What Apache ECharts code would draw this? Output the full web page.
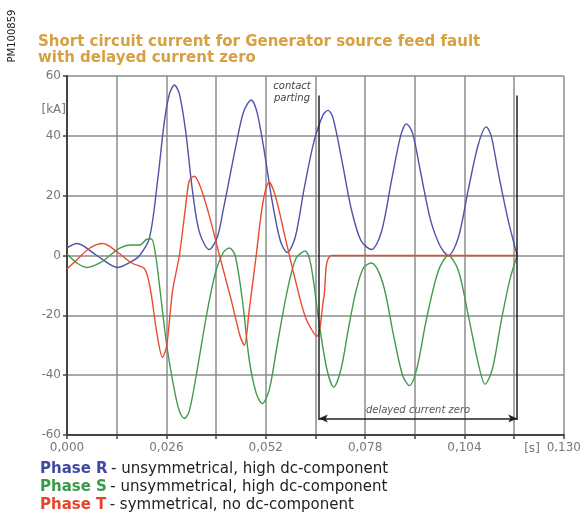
<!DOCTYPE html>
<html><head><meta charset="utf-8">
<script src="https://cdn.jsdelivr.net/npm/echarts/dist/echarts.min.js"></script>
<style>html,body{margin:0;padding:0;background:#fff}#c{width:584px;height:514px}</style>
</head><body><div id="c"></div>
<script>
// time [s], current [kA]
const phaseR = [[0,2.5],[0.0026,4],[0.0078,0],[0.0133,-4],[0.0169,-2],[0.019,0],[0.0216,6],[0.0237,25],[0.0255,45],[0.0268,54],[0.0281,57],[0.0294,54],[0.031,42],[0.0328,22],[0.0346,8],[0.0372,2],[0.0393,6],[0.041,16],[0.0427,27],[0.0444,38],[0.0462,48],[0.0482,52],[0.0497,48],[0.0516,35],[0.0537,18],[0.0558,5],[0.0576,1],[0.0597,6],[0.062,22],[0.0646,38],[0.067,47],[0.0683,48.5],[0.0696,46],[0.0719,32],[0.0743,16],[0.0769,5],[0.0797,2],[0.0823,8],[0.0849,25],[0.0873,40],[0.0888,44],[0.0904,41],[0.0925,28],[0.0951,12],[0.0977,3],[0.0998,0],[0.1024,6],[0.105,22],[0.1076,37],[0.1097,43],[0.111,40],[0.1128,28],[0.1154,12],[0.1178,0]];
const phaseS = [[0,0.5],[0.0026,-2.5],[0.0052,-4],[0.0086,-2.5],[0.0112,0],[0.0138,2.5],[0.0167,3.5],[0.019,3.5],[0.0211,5.5],[0.0221,5.5],[0.0232,0],[0.0242,-10],[0.0261,-30],[0.0281,-45],[0.0294,-52],[0.0307,-54.5],[0.032,-52],[0.0341,-38],[0.0365,-20],[0.0388,-6],[0.0409,1],[0.0425,2.5],[0.044,0],[0.0459,-15],[0.0477,-35],[0.0495,-46],[0.0511,-49.5],[0.0529,-45],[0.055,-30],[0.0576,-12],[0.0599,-1],[0.0623,1.5],[0.0638,-3],[0.0659,-22],[0.068,-38],[0.0698,-44],[0.0717,-38],[0.0737,-24],[0.0756,-12],[0.0776,-4],[0.0797,-2.5],[0.0826,-9],[0.0855,-27],[0.0878,-40],[0.0896,-43.5],[0.0915,-38],[0.0941,-21],[0.0972,-5],[0.0998,0],[0.1024,-5],[0.105,-20],[0.1076,-36],[0.1094,-43],[0.1113,-38],[0.1136,-22],[0.1159,-8],[0.1178,0]];
const phaseT = [[0,-4.5],[0.0021,-2],[0.006,2.5],[0.0094,4],[0.0133,1],[0.0169,-2.5],[0.0203,-4.5],[0.0219,-12],[0.0234,-25],[0.025,-34],[0.0261,-30],[0.0276,-12],[0.0294,0],[0.031,16],[0.032,25],[0.0333,26.5],[0.0349,23],[0.0373,13],[0.0399,0],[0.0428,-14],[0.0453,-27],[0.0464,-30],[0.0477,-18],[0.0495,0],[0.0513,18],[0.0529,24.5],[0.0545,20],[0.0571,6],[0.0597,-8],[0.0625,-21],[0.0654,-27],[0.0672,-14],[0.0693,0],[0.1178,0]];
const contactParting = 0.0659;
const currentZero = 0.1178;
const xLabelStep = 0.026;

const FONT = 'DejaVu Sans';
const cR = '#4f52a8', cS = '#449a4c', cT = '#ea4a2e';
const chart = echarts.init(document.getElementById('c'), null, {renderer:'canvas'});
chart.setOption({
  animation:false,
  backgroundColor:'#fff',
  grid:{left:67,right:18,top:76,bottom:79},
  xAxis:{type:'value',min:0,max:0.13,interval:0.013,
    axisLine:{onZero:false,lineStyle:{color:'#444',width:2}},
    axisTick:{show:true,length:4,lineStyle:{color:'#444',width:1.5}},
    splitLine:{show:true,lineStyle:{color:'#8c8c8c',width:1.5}},
    axisLabel:{color:'#777',fontFamily:FONT,fontSize:12,margin:7,
      formatter:v=>{const k=v/xLabelStep;return Math.abs(k-Math.round(k))<1e-6?v.toFixed(3).replace('.',','):'';}}},
  yAxis:{type:'value',min:-60,max:60,interval:20,
    axisLine:{show:true,lineStyle:{color:'#444',width:2}},
    axisTick:{show:true,length:4,lineStyle:{color:'#444',width:1.5}},
    splitLine:{show:true,lineStyle:{color:'#8c8c8c',width:1.5}},
    axisLabel:{color:'#777',fontFamily:FONT,fontSize:12,margin:6}},
  series:[
    {type:'line',data:phaseR,showSymbol:false,smooth:0.3,lineStyle:{color:cR,width:1.4},z:3,
     markLine:{silent:true,symbol:'none',animation:false,
       lineStyle:{color:'#222',width:1.5,type:'solid'},label:{show:false},
       data:[
         [{coord:[contactParting,53.5]},{coord:[contactParting,-55]}],
         [{coord:[currentZero,53.5]},{coord:[currentZero,-55]}],
         [{coord:[contactParting,-54.5],symbol:'arrow',symbolSize:[6,9]},
          {coord:[currentZero,-54.5],symbol:'arrow',symbolSize:[6,9],
           label:{show:true,position:'middle',formatter:'delayed current zero',color:'#555',fontStyle:'italic',fontFamily:FONT,fontSize:10,distance:3}}]
       ]}},
    {type:'line',data:phaseS,showSymbol:false,smooth:0.3,lineStyle:{color:cS,width:1.4},z:3},
    {type:'line',data:phaseT,showSymbol:false,smooth:0.3,lineStyle:{color:cT,width:1.4},z:3}
  ],
  graphic:[
    {type:'text',x:12,y:36,rotation:Math.PI/2,style:{text:'PM100859',fill:'#222',font:'10px '+FONT,textAlign:'center',textVerticalAlign:'middle'}},
    {type:'text',x:38,y:42,style:{text:'Short circuit current for Generator source feed fault',fill:'#d9a041',font:'bold 15px '+FONT,textVerticalAlign:'middle'}},
    {type:'text',x:38,y:58,style:{text:'with delayed current zero',fill:'#d9a041',font:'bold 15px '+FONT,textVerticalAlign:'middle'}},
    {type:'text',x:66,y:110,style:{text:'[kA]',fill:'#777',font:'12px '+FONT,textAlign:'right',textVerticalAlign:'middle'}},
    {type:'text',x:532,y:449,style:{text:'[s]',fill:'#777',font:'12px '+FONT,textAlign:'center',textVerticalAlign:'middle'}},
    {type:'text',x:292,y:92,style:{text:'contact\nparting',fill:'#444',font:'italic 10px '+FONT,textAlign:'center',textVerticalAlign:'middle',lineHeight:12}},
    {type:'text',x:40,y:469,style:{text:'{a|Phase R} {n|- unsymmetrical, high dc-component}',textVerticalAlign:'middle',rich:{a:{fill:'#3d4aa0',font:'bold 15px '+FONT},n:{fill:'#222',font:'15px '+FONT}}}},
    {type:'text',x:40,y:487,style:{text:'{a|Phase S} {n|- unsymmetrical, high dc-component}',textVerticalAlign:'middle',rich:{a:{fill:'#3a9a48',font:'bold 15px '+FONT},n:{fill:'#222',font:'15px '+FONT}}}},
    {type:'text',x:40,y:505,style:{text:'{a|Phase T} {n|- symmetrical, no dc-component}',textVerticalAlign:'middle',rich:{a:{fill:'#e8432a',font:'bold 15px '+FONT},n:{fill:'#222',font:'15px '+FONT}}}}
  ]
});
</script></body></html>
